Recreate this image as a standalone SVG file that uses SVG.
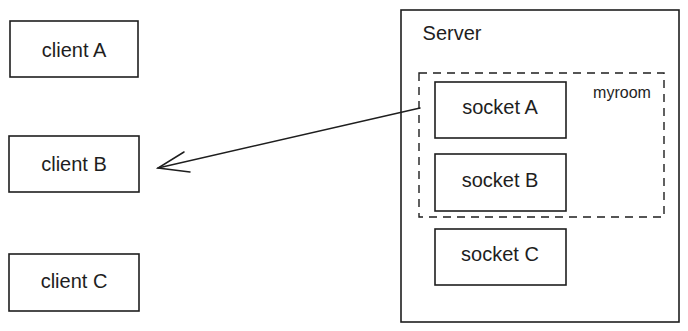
<svg xmlns="http://www.w3.org/2000/svg" width="688" height="331" viewBox="0 0 688 331">
<style>
.box{fill:none;stroke:#1e1e1e;stroke-width:1.6}
.dash{fill:none;stroke:#1e1e1e;stroke-width:1.4;stroke-dasharray:8 6}
.t{font-family:"Liberation Sans",Arial,sans-serif;font-size:20px;fill:#1e1e1e;text-anchor:middle}
.line{fill:none;stroke:#1e1e1e;stroke-width:1.5;stroke-linecap:round}
</style>
<rect width="688" height="331" fill="#ffffff"/>
<g id="client-a"><rect class="box" x="10" y="21" width="128" height="56"/><text class="t" x="74" y="57">client A</text></g>
<g id="client-b"><rect class="box" x="9" y="136" width="130" height="56"/><text class="t" x="74" y="171">client B</text></g>
<g id="client-c"><rect class="box" x="9" y="254" width="130" height="57"/><text class="t" x="74" y="288">client C</text></g>
<g id="server"><rect class="box" x="401" y="10" width="278" height="312"/><text class="t" x="452" y="40">Server</text></g>
<g id="myroom"><rect class="dash" x="419" y="73" width="245" height="144"/><text class="t" x="622" y="98" style="font-size:16px">myroom</text></g>
<g id="socket-a"><rect class="box" x="435" y="82" width="131" height="56"/><text class="t" x="500" y="114">socket A</text></g>
<g id="socket-b"><rect class="box" x="435" y="154" width="131" height="57"/><text class="t" x="500" y="187">socket B</text></g>
<g id="socket-c"><rect class="box" x="435" y="229" width="131" height="56"/><text class="t" x="500" y="261">socket C</text></g>
<g id="connectors">
<path class="line" d="M420 108 L158 168"/>
<path class="line" d="M184 152 L158 168 L190 172"/>
</g>
</svg>
